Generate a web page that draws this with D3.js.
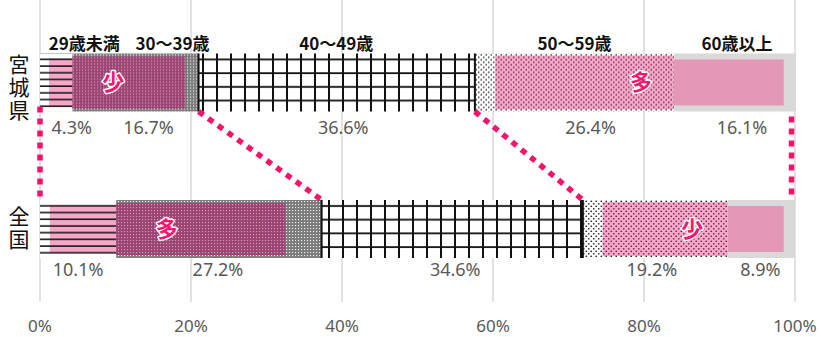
<!DOCTYPE html>
<html><head><meta charset="utf-8">
<script src="https://cdn.jsdelivr.net/npm/d3@7"></script>
<style>html,body{margin:0;padding:0;background:#fff;} svg{display:block;}</style>
</head><body>
<svg id="c" width="821" height="337"></svg>
<script>
// ---------------- data ----------------
const regions = ["宮城県", "全国"];
const ageGroups = ["29歳未満", "30～39歳", "40～49歳", "50～59歳", "60歳以上"];
const miyagiValues = [4.3, 16.7, 36.6, 26.4, 16.1];
const nationalValues = [10.1, 27.2, 34.6, 19.2, 8.9];
// inner (pink) band of each segment, [start, end] in percent
const miyagiInner = [[1.2, 4.3], [4.3, 19.2], null, [60.3, 83.9], [83.9, 98.5]];
const nationalInner = [[1.3, 10.1], [10.1, 32.5], null, [74.5, 91.1], [91.1, 98.5]];
const xTicks = [0, 20, 40, 60, 80, 100];
const markerRegion = ["宮城県", "宮城県", "全国", "全国"];
const markerText = ["少", "多", "多", "少"];
const markerAt = [9.7, 79.6, 16.8, 86.4];

// ---------------- style ----------------
const W = 821, H = 337;
const svg = d3.select("#c");
const x = d3.scaleLinear().domain([0, 100]).range([40, 795]);
const yc = d3.scalePoint().domain(regions).range([82.5, 229]);
const barH = 58;
const segStyle = [
  {outer: "url(#hlW)", inner: "url(#hlP)", inset: 5},
  {outer: "url(#gdot)", inner: "url(#mdot)", inset: 3},
  {outer: "url(#grid)", inner: null, inset: 0},
  {outer: "url(#bdotW)", inner: "url(#bdotP)", inset: 2},
  {outer: "#d9d9d9", inner: "#e597b8", inset: 6}
];
const miyagiLabelNudge = [15.5, 13, 6.5, 16, 7];
const nationalLabelNudge = [0, -1, 3, -3.5, -1];
const catNudge = [28, 37, -0.5, 0, 2];

const defs = svg.append("defs");
function pat(id, w, h, draw) {
  const p = defs.append("pattern").attr("id", id).attr("patternUnits", "userSpaceOnUse")
    .attr("width", w).attr("height", h);
  draw(p, w, h);
}
pat("hlW", 10, 6.7, (p, w, h) => {
  p.append("rect").attr("width", w).attr("height", h).attr("fill", "#fff");
  p.append("rect").attr("y", 5.1).attr("width", w).attr("height", 1.8).attr("fill", "#1a1a1a");
});
pat("hlP", 10, 6.7, (p, w, h) => {
  p.append("rect").attr("width", w).attr("height", h).attr("fill", "#f7a6c8");
  p.append("rect").attr("y", 5.1).attr("width", w).attr("height", 1.8).attr("fill", "#1a1a1a");
});
pat("gdot", 3, 3, (p, w, h) => {
  p.append("rect").attr("width", w).attr("height", h).attr("fill", "#7c7c7c");
  p.append("rect").attr("x", 1).attr("y", 1).attr("width", 1.1).attr("height", 1.1).attr("fill", "#f2f2f2");
});
pat("mdot", 3, 3, (p, w, h) => {
  p.append("rect").attr("width", w).attr("height", h).attr("fill", "#9c4575");
  p.append("rect").attr("x", 1).attr("y", 1).attr("width", 1.1).attr("height", 1.1).attr("fill", "#d69bb9");
});
pat("grid", 14, 13.7, (p, w, h) => {
  p.append("rect").attr("width", w).attr("height", h).attr("fill", "#fff");
  p.append("rect").attr("x", 6).attr("width", 2).attr("height", h).attr("fill", "#111");
  p.append("rect").attr("y", 5.1).attr("width", w).attr("height", 1.8).attr("fill", "#111");
});
pat("bdotW", 5, 5, (p, w, h) => {
  p.append("rect").attr("width", w).attr("height", h).attr("fill", "#fff");
  p.append("circle").attr("cx", 1.25).attr("cy", 1.25).attr("r", 0.85).attr("fill", "#222");
  p.append("circle").attr("cx", 3.75).attr("cy", 3.75).attr("r", 0.85).attr("fill", "#222");
});
pat("bdotP", 5, 5, (p, w, h) => {
  p.append("rect").attr("width", w).attr("height", h).attr("fill", "#f5a7c8");
  p.append("circle").attr("cx", 1.25).attr("cy", 1.25).attr("r", 0.85).attr("fill", "#6e2349");
  p.append("circle").attr("cx", 3.75).attr("cy", 3.75).attr("r", 0.85).attr("fill", "#6e2349");
});

// gridlines
svg.append("g").selectAll("line").data(xTicks).join("line")
  .attr("x1", d => x(d)).attr("x2", d => x(d)).attr("y1", 0).attr("y2", 302)
  .attr("stroke", "#d9d9d9").attr("stroke-width", 1.5);

// bars
const rows = [
  {region: "宮城県", values: miyagiValues, inner: miyagiInner, nudge: miyagiLabelNudge, labelDy: 45},
  {region: "全国", values: nationalValues, inner: nationalInner, nudge: nationalLabelNudge, labelDy: 41}
];
rows.forEach(r => {
  let acc = 0;
  r.segs = r.values.map((v, i) => { const s = {i, v, x0: acc, x1: acc + v}; acc += v; return s; });
});

const font = "'Noto Sans CJK JP','Noto Sans',sans-serif";

rows.forEach(r => {
  const g = svg.append("g").attr("transform", `translate(0,${yc(r.region) - barH / 2})`);
  g.selectAll("rect.outer").data(r.segs).join("rect").attr("class", "outer")
    .attr("x", d => x(d.x0)).attr("width", d => x(d.x1) - x(d.x0))
    .attr("y", 0).attr("height", barH)
    .attr("fill", d => segStyle[d.i].outer);
  g.selectAll("rect.inner").data(r.segs.filter(d => r.inner[d.i])).join("rect").attr("class", "inner")
    .attr("x", d => x(r.inner[d.i][0])).attr("width", d => x(r.inner[d.i][1]) - x(r.inner[d.i][0]))
    .attr("y", d => segStyle[d.i].inset).attr("height", d => barH - 2 * segStyle[d.i].inset)
    .attr("fill", d => segStyle[d.i].inner);
  const gs = r.segs[2];
  g.selectAll("line.edge").data([gs.x0, gs.x1]).join("line").attr("class", "edge")
    .attr("x1", d => x(d)).attr("x2", d => x(d)).attr("y1", 0).attr("y2", barH)
    .attr("stroke", "#111").attr("stroke-width", 2);
  svg.append("g").selectAll("text").data(r.segs).join("text")
    .attr("x", d => x((d.x0 + d.x1) / 2) + r.nudge[d.i])
    .attr("y", yc(r.region) + r.labelDy)
    .attr("dy", "0.35em").attr("text-anchor", "middle")
    .attr("font-family", "'Noto Sans',sans-serif").attr("font-size", 18).attr("fill", "#595959")
    .text(d => d.v.toFixed(1) + "%");
});

// category labels
svg.append("g").selectAll("text").data(rows[0].segs).join("text")
  .attr("x", d => x((d.x0 + d.x1) / 2) + catNudge[d.i])
  .attr("y", 44).attr("dy", "0.35em").attr("text-anchor", "middle")
  .attr("font-family", font).attr("font-weight", "bold").attr("font-size", 17).attr("fill", "#111")
  .text(d => ageGroups[d.i]);

// markers 少 / 多
svg.append("g").selectAll("text").data(markerText.map((t, i) => ({t, r: markerRegion[i], a: markerAt[i]}))).join("text")
  .attr("x", d => x(d.a)).attr("y", d => yc(d.r)).attr("dy", "0.35em").attr("text-anchor", "middle")
  .attr("font-family", font).attr("font-weight", "bold").attr("font-size", 22)
  .attr("fill", "#f2186f").attr("stroke", "#fff").attr("stroke-width", 3).attr("paint-order", "stroke")
  .attr("stroke-linejoin", "round")
  .text(d => d.t);

// region labels (vertical writing)
const regionCenterNudge = [5.5, 0];
svg.append("g").selectAll("text").data(regions).join("text")
  .attr("x", 19).attr("y", (d, k) => yc(d) + regionCenterNudge[k])
  .attr("text-anchor", "middle")
  .style("writing-mode", "vertical-rl").style("text-orientation", "upright")
  .style("letter-spacing", "2px")
  .attr("font-family", font).attr("font-size", 21).attr("fill", "#111")
  .text(d => d);

// connector dashed lines
const miy = rows[0].segs, nat = rows[1].segs;
const topB = yc("宮城県") + barH / 2, botT = yc("全国") - barH / 2;
const conns = [
  [x(0), topB - 5, x(0), botT],
  [x(miy[1].x1), topB, x(nat[1].x1), botT],
  [x(miy[2].x1), topB, x(nat[2].x1), botT],
  [x(100) - 3.5, topB + 5, x(100) - 3.5, botT - 4]
];
svg.append("g").selectAll("line").data(conns).join("line")
  .attr("x1", d => d[0]).attr("y1", d => d[1]).attr("x2", d => d[2]).attr("y2", d => d[3])
  .attr("stroke", "#f5146c").attr("stroke-width", 5.5).attr("stroke-dasharray", "6,6");

// axis tick labels
svg.append("g").selectAll("text").data(xTicks).join("text")
  .attr("x", d => x(d)).attr("y", 326).attr("dy", "0.35em").attr("text-anchor", "middle")
  .attr("font-family", "'Noto Sans',sans-serif").attr("font-size", 17).attr("fill", "#595959")
  .text(d => d + "%");
</script>
</body></html>
